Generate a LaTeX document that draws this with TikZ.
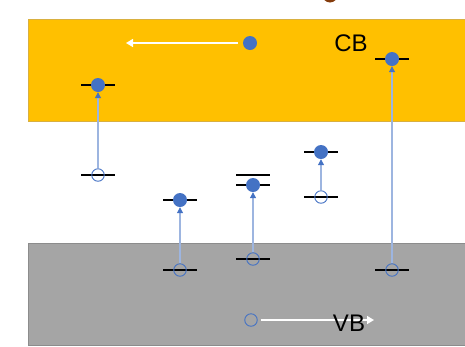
\documentclass[tikz,border=0pt]{standalone}
\usepackage{fontspec}
\setmainfont{Liberation Sans}
\usetikzlibrary{arrows.meta}
\definecolor{cbgold}{HTML}{FFC000}
\definecolor{cbedge}{HTML}{D9B040}
\definecolor{vbgray}{HTML}{A5A5A5}
\definecolor{vbedge}{HTML}{8C8C8C}
\definecolor{eblue}{HTML}{4472C4}
\definecolor{lblue}{HTML}{9DB5E0}
\definecolor{brownc}{HTML}{843C0C}
\tikzset{
  band/.style={line width=1pt},
  level/.style={line width=1.8pt, black},
  elec/.style={circle, fill=eblue, inner sep=0pt, minimum size=14pt},
  hole/.style={circle, draw=eblue, line width=0.9pt, fill=none, inner sep=0pt, minimum size=12.5pt},
  trans/.style={lblue, line width=1.1pt, -{Triangle[length=6pt,width=6pt,fill=eblue,color=eblue]}},
  drift/.style={white, line width=1.6pt, -{Triangle[length=7pt,width=8pt]}},
  lab/.style={font=\fontsize{24}{26}\selectfont, inner sep=0pt, anchor=center},
}
\begin{document}
\begin{tikzpicture}[x=1pt,y=-1pt]
\useasboundingbox (0,0) rectangle (465,346);
\begin{scope}
\clip (0,0) rectangle (465,346);
\fill[brownc] (330,-6) ellipse (8 and 8.5);
% bands
\draw[band, fill=cbgold, draw=cbedge] (28,19) rectangle (470,121);
\draw[band, fill=vbgray, draw=vbedge] (28,243) rectangle (470,345);
\end{scope}
% labels
\node[lab] (cb) at (351,43) {CB};
% free electron in CB
\node[elec] (fe) at (250,43) {};
\coordinate (fe-end) at (126,43);
\draw[drift] (fe.west) ++(-5,0) -- (fe-end);
% levels
\foreach \n/\x/\y in {u1/98/85, l1/98/175, u2/180/200, l2/180/270, u3a/253/175, u3/253/185, l3/253/259, u4/321/152, l4/321/197, u5/392/59, l5/392/270}{
  \coordinate (\n) at (\x,\y);
  \draw[level] ([xshift=-17pt]\n) -- ([xshift=17pt]\n);
}
% electrons and holes
\foreach \i in {1,...,5}{
  \node[elec] (e\i) at (u\i) {};
  \node[hole] (h\i) at (l\i) {};
  \draw[trans] (h\i.north) -- (e\i.south);
}
% free hole in VB
\node[hole] (fh) at (251,320) {};
\coordinate (fh-end) at (374,320);
\draw[drift] (fh.east) ++(3,0) -- (fh-end);
\node[lab] (vb) at (349,323) {VB};
\end{tikzpicture}
\end{document}
